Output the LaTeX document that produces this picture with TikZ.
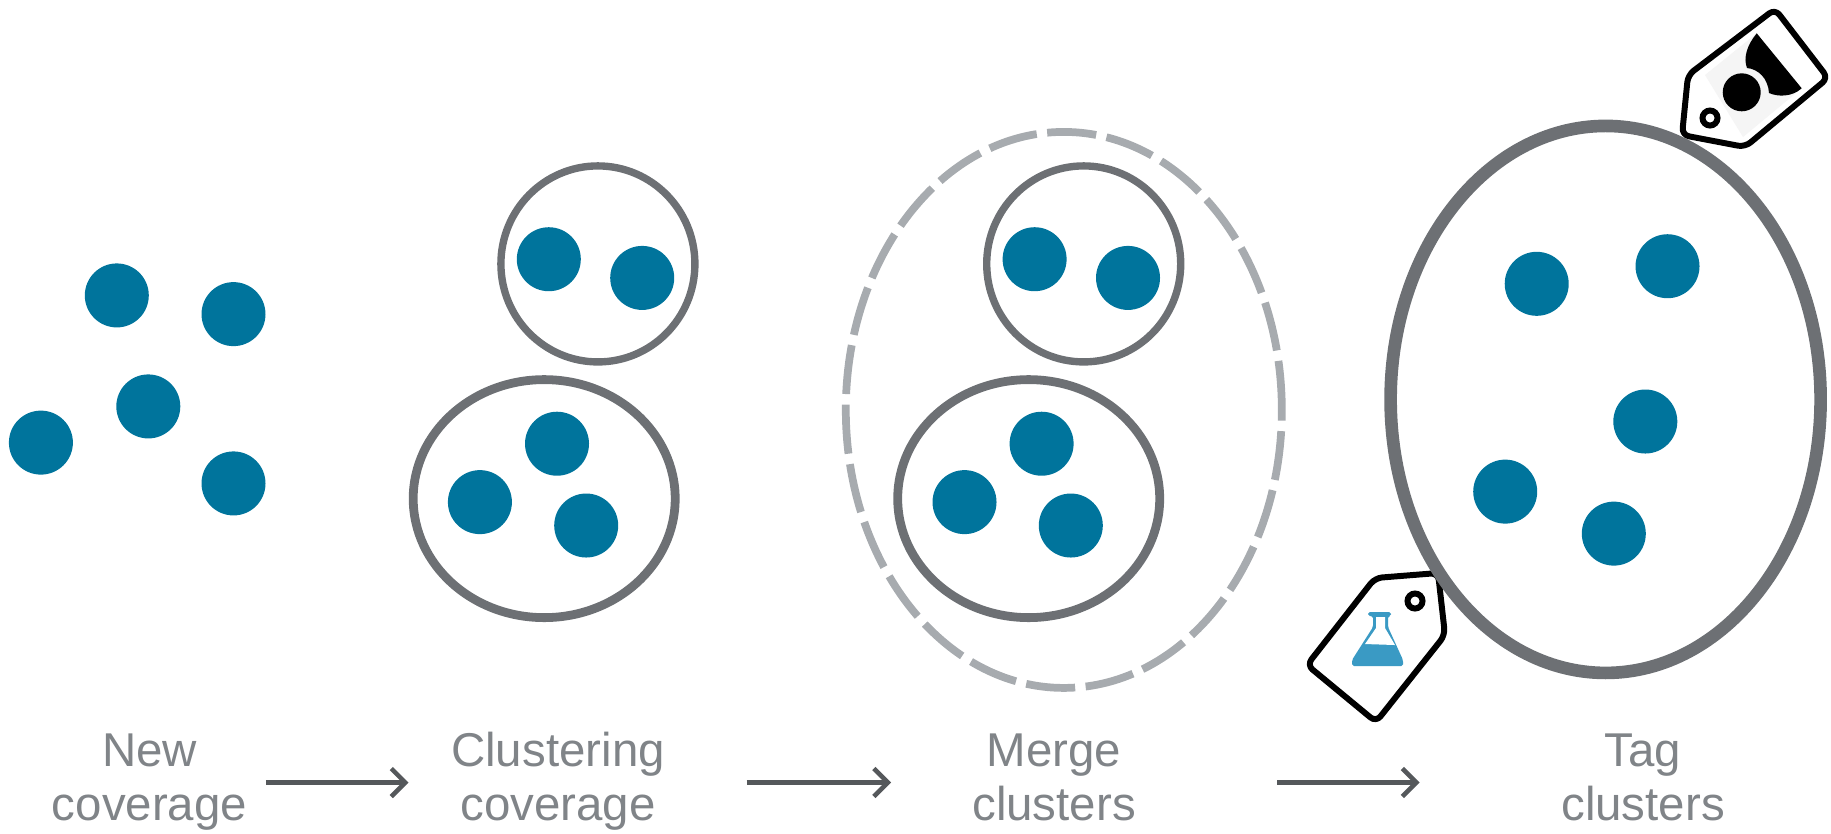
\documentclass[tikz,border=0pt]{standalone}
\usepackage{fontspec}
\setmainfont{Liberation Sans}
\usetikzlibrary{arrows.meta,shapes.geometric}
\definecolor{dotblue}{HTML}{00749C}
\definecolor{ringgray}{HTML}{6D7074}
\definecolor{dashgray}{HTML}{A7ABAF}
\definecolor{labelgray}{HTML}{808488}
\definecolor{flowgray}{HTML}{55585B}
\definecolor{flaskblue}{HTML}{3A9AC4}
\begin{document}
\begin{tikzpicture}[dot node/.style={circle, fill=dotblue, minimum size=0.64cm, inner sep=0pt},ring node/.style={ellipse, draw=ringgray, line width=2.1pt, inner sep=0pt},wide ring node/.style={ellipse, draw=ringgray, line width=2.5pt, inner sep=0pt},merge node/.style={ellipse, draw=dashgray, line width=2.2pt, inner sep=0pt, dash pattern=on 14pt off 3pt},tagged node/.style={ellipse, draw=ringgray, line width=3.6pt, inner sep=0pt},label node/.style={font=\fontsize{13.5}{15.6}\selectfont, text=labelgray, align=center, inner sep=0pt},tag outline/.style={draw=black, fill=white, line width=1.7pt, line join=round, rounded corners=2pt},tag hole/.style={circle, draw=black, fill=white, line width=1.7pt, minimum size=0.15cm, inner sep=0pt},flow/.style={draw=flowgray, line width=1.3pt, -{Straight Barb[length=1.4mm,width=2.8mm]}}]%
\path[use as bounding box] (0,0) rectangle (18.31,-8.33);%
  % New coverage%
\node[dot node] (new1) at (1.168,-2.954) {};%
\node[dot node] (new2) at (2.335,-3.141) {};%
\node[dot node] (new3) at (1.483,-4.064) {};%
\node[dot node] (new4) at (0.409,-4.426) {};%
\node[dot node] (new5) at (2.335,-4.834) {};%
  % Clustering coverage%
\node[ring node, minimum width=1.94cm, minimum height=1.96cm] (clusterA) at (5.979,-2.639) {};%
\node[wide ring node, minimum width=2.62cm, minimum height=2.38cm] (clusterB) at (5.442,-4.986) {};%
\node[dot node] (clusterA1) at (5.488,-2.592) {};%
\node[dot node] (clusterA2) at (6.422,-2.779) {};%
\node[dot node] (clusterB1) at (5.570,-4.437) {};%
\node[dot node] (clusterB2) at (4.799,-5.021) {};%
\node[dot node] (clusterB3) at (5.862,-5.255) {};%
  % Merge clusters%
\node[merge node, minimum width=4.36cm, minimum height=5.56cm] (mergeAll) at (10.638,-4.099) {};%
\node[ring node, minimum width=1.94cm, minimum height=1.96cm] (mergeA) at (10.837,-2.639) {};%
\node[wide ring node, minimum width=2.62cm, minimum height=2.38cm] (mergeB) at (10.287,-4.986) {};%
\node[dot node] (mergeA1) at (10.346,-2.592) {};%
\node[dot node] (mergeA2) at (11.280,-2.779) {};%
\node[dot node] (mergeB1) at (10.416,-4.437) {};%
\node[dot node] (mergeB2) at (9.645,-5.021) {};%
\node[dot node] (mergeB3) at (10.708,-5.255) {};%
  % Tag on top%
\draw[tag outline] (17.75,-0.09) -- (18.28,-0.78) -- (17.45,-1.47) -- (16.82,-1.35) -- (16.88,-0.75) -- cycle;%
\fill[black!4] (17.567,-0.333) -- (18.017,-0.883) -- (17.43,-1.37) -- (17.05,-0.75) -- cycle;%
\node[tag hole] (hazardHole) at (17.10,-1.18) {};%
\fill[black] (17.417,-0.923) circle (0.19);%
\fill[black] (17.567,-0.333) -- (18.017,-0.883) .. controls (17.92,-0.97) and (17.78,-0.97) .. (17.69,-0.93) .. controls (17.68,-0.78) and (17.58,-0.69) .. (17.47,-0.68) .. controls (17.43,-0.58) and (17.47,-0.45) .. cycle;%
  % Tag at the bottom%
\draw[tag outline] (13.75,-5.78) -- (14.38,-5.73) -- (14.45,-6.35) -- (13.76,-7.22) -- (13.07,-6.65) -- cycle;%
\node[tag hole] (flaskHole) at (14.15,-6.01) {};%
\fill[flaskblue, rounded corners=0.5pt] (13.68,-6.12) -- (13.91,-6.12) -- (13.91,-6.16) -- (13.88,-6.16) -- (13.88,-6.27) -- (14.03,-6.60) -- (14.03,-6.66) -- (13.52,-6.66) -- (13.52,-6.60) -- (13.73,-6.27) -- (13.73,-6.16) -- (13.68,-6.16) -- cycle;%
\fill[white] (13.76,-6.17) -- (13.85,-6.17) -- (13.85,-6.28) -- (13.95,-6.45) -- (13.65,-6.44) -- (13.76,-6.28) -- cycle;%
  % Tag clusters%
\node[tagged node, minimum width=4.30cm, minimum height=5.47cm] (taggedAll) at (16.056,-3.994) {};%
\node[dot node] (tagged1) at (15.367,-2.838) {};%
\node[dot node] (tagged2) at (16.675,-2.662) {};%
\node[dot node] (tagged3) at (16.453,-4.215) {};%
\node[dot node] (tagged4) at (15.052,-4.916) {};%
\node[dot node] (tagged5) at (16.138,-5.336) {};%
  % Labels%
\node[label node] (newLabel) at (1.495,-7.825) {\strut New\\coverage\strut};%
\node[label node] (clusterLabel) at (5.58,-7.825) {\strut Clustering\\coverage\strut};%
\node[label node] (mergeLabel) at (10.54,-7.825) {\strut Merge\\clusters\strut};%
\node[label node] (tagLabel) at (16.43,-7.825) {\strut Tag\\clusters\strut};%
  % Arrows%
\path[flow] ([xshift=0.18cm]newLabel.east) -- ([xshift=-0.42cm]clusterLabel.west);%
\path[flow] ([xshift=0.81cm]clusterLabel.east) -- ([xshift=-0.805cm]mergeLabel.west);%
\path[flow] ([xshift=1.41cm]mergeLabel.east) -- ([xshift=-1.41cm]tagLabel.west);%
\end{tikzpicture}
\end{document}
